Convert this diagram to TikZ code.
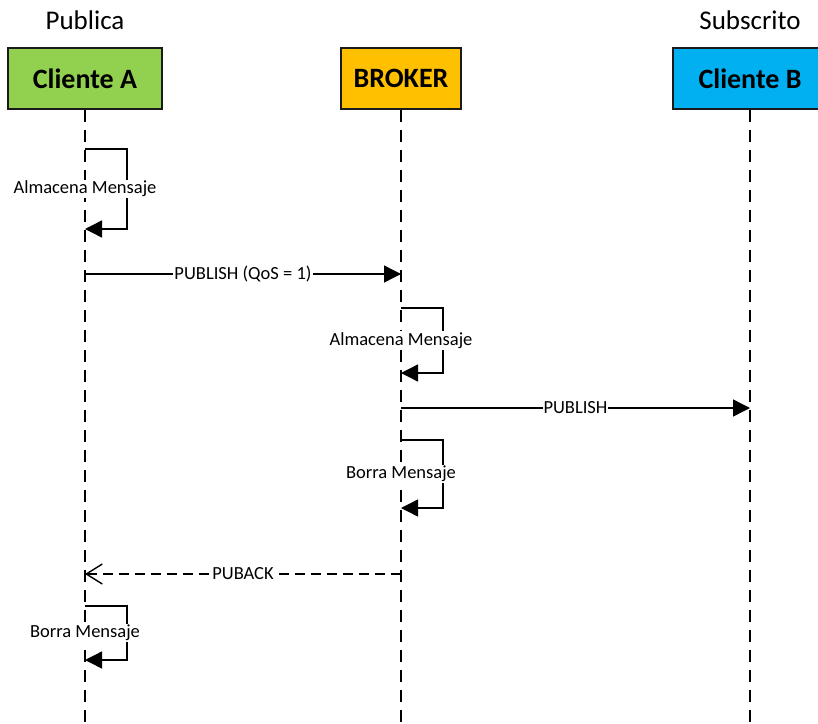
\documentclass[tikz,border=0pt]{standalone}
\usepackage{fontspec}
\setmainfont{Carlito}
\usetikzlibrary{arrows.meta,calc}

\definecolor{clientA}{HTML}{92D050}
\definecolor{broker}{HTML}{FFC000}
\definecolor{clientB}{HTML}{00B0F0}
\definecolor{edge}{HTML}{1A1A1A}

\begin{document}
\begin{tikzpicture}[x=1pt,y=-1pt,
  actor/.style={draw=edge,line width=2pt,minimum width=154pt,minimum height=61pt,
    inner sep=0pt,font=\fontsize{28}{32}\selectfont\bfseries},
  role/.style={inner sep=0pt,font=\fontsize{27}{31}\selectfont},
  lifeline/.style={line width=1.4pt,dash pattern=on 12pt off 8pt},
  msg/.style={line width=1.4pt,-{Triangle[length=17pt,width=17pt]}},
  reply/.style={line width=1.4pt,dash pattern=on 10pt off 6pt,
    -{Straight Barb[length=16pt,width=20pt,line width=1.4pt]}},
  tag/.style={fill=white,inner sep=1pt,font=\fontsize{18.5}{22}\selectfont},
]
\useasboundingbox (0,0) rectangle (818,723);

% participants
\node[actor,fill=clientA] (A) at (85,78.5) {Cliente A};
\node[actor,fill=broker,minimum width=120pt] (K) at (401,78.5) {BROKER};
\node[actor,fill=clientB] (B) at (750,78.5) {Cliente B};
\node[role] (pa) at (85,20) {Publica};
\node[role] (pb) at (750,20) {Subscrito};

% lifelines
\coordinate (Aend) at (85,723);
\coordinate (Kend) at (401,723);
\coordinate (Bend) at (750,723);
\draw[lifeline] (A.south) -- (Aend);
\draw[lifeline] (K.south) -- (Kend);
\draw[lifeline] (B.south) -- (Bend);

% message anchors on the lifelines
\coordinate (a1) at (85,149);  \coordinate (a2) at (85,229);
\coordinate (a3) at (85,274);  \coordinate (k3) at (401,274);
\coordinate (k4) at (401,308); \coordinate (k5) at (401,373);
\coordinate (k6) at (401,408); \coordinate (b6) at (750,408);
\coordinate (k7) at (401,440); \coordinate (k8) at (401,508);
\coordinate (k9) at (401,574); \coordinate (a9) at (85,574);
\coordinate (a10) at (85,606); \coordinate (a11) at (85,660);

% Cliente A stores the message
\draw[msg] (a1) -- ++(42,0) |- (a2);
\node[tag] (t1) at ($(a1)!0.5!(a2)$) {Almacena Mensaje};

% publish to the broker
\draw[msg] (a3) -- (k3) node[tag,midway] (t2) {PUBLISH (QoS = 1)};

% broker stores the message
\draw[msg] (k4) -- ++(42,0) |- (k5);
\node[tag] (t3) at ($(k4)!0.5!(k5)$) {Almacena Mensaje};

% forward to the subscriber
\draw[msg] (k6) -- (b6) node[tag,midway] (t4) {PUBLISH};

% broker deletes the message
\draw[msg] (k7) -- ++(42,0) |- (k8);
\node[tag] (t5) at ($(k7)!0.5!(k8)$) {Borra Mensaje};

% acknowledgement back to Cliente A
\draw[reply] (k9) -- (a9) node[tag,midway] (t6) {PUBACK};

% Cliente A deletes the message
\draw[msg] (a10) -- ++(42,0) |- (a11);
\node[tag] (t7) at ($(a10)!0.5!(a11)$) {Borra Mensaje};
\end{tikzpicture}
\end{document}
